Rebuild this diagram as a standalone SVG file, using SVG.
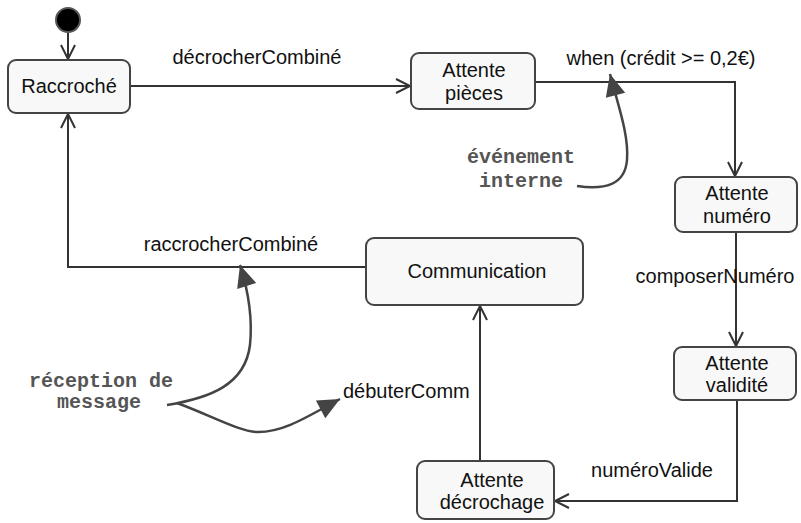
<svg xmlns="http://www.w3.org/2000/svg" width="801" height="523" viewBox="0 0 801 523">
<style>
.box{fill:#f8f8f8;stroke:#444;stroke-width:2}
.lbl{font-family:"Liberation Sans",Arial,sans-serif;font-size:20px;fill:#111;text-anchor:middle}
.note{font-family:"Liberation Mono","Courier New",monospace;font-size:20px;font-weight:bold;fill:#555;text-anchor:middle}
.edge{fill:none;stroke:#333;stroke-width:2}
.curve{fill:none;stroke:#444;stroke-width:2.5}
</style>
<defs>
<marker id="open" markerUnits="userSpaceOnUse" markerWidth="16" markerHeight="16" refX="14" refY="7" orient="auto" overflow="visible">
<path d="M0,0 L14,7 L0,14" fill="none" stroke="#333" stroke-width="2"/>
</marker>
<marker id="filled" markerUnits="userSpaceOnUse" markerWidth="24" markerHeight="22" refX="22" refY="10" orient="auto" overflow="visible">
<polygon points="0,0 22,10 0,20" fill="#444"/>
</marker>
</defs>
<rect width="801" height="523" fill="#ffffff"/>
<g id="connectors">
<path class="edge" d="M68,33 L68,59" marker-end="url(#open)"/>
<path class="edge" d="M130,86 L410,86" marker-end="url(#open)"/>
<path class="edge" d="M535,82 L735,82 L735,176" marker-end="url(#open)"/>
<path class="edge" d="M736,232 L736,346" marker-end="url(#open)"/>
<path class="edge" d="M737,400 L737,501 L555,501" marker-end="url(#open)"/>
<path class="edge" d="M480,461 L480,306" marker-end="url(#open)"/>
<path class="edge" d="M366,267 L68,267 L68,114" marker-end="url(#open)"/>
<text class="lbl" x="257" y="64">décrocherCombiné</text>
<text class="lbl" x="661" y="65">when (crédit &gt;= 0,2€)</text>
<text class="lbl" x="715" y="283">composerNuméro</text>
<text class="lbl" x="652" y="477">numéroValide</text>
<text class="lbl" x="231" y="251">raccrocherCombiné</text>
<text class="lbl" x="343" y="398" style="text-anchor:start">débuterComm</text>
</g>
<g id="note-evenement">
<path class="curve" d="M577,186 C605,190 625,185 627,160 C629,135 618,105 610,74" marker-end="url(#filled)"/>
<text class="note" x="521" y="163">événement</text>
<text class="note" x="521" y="187">interne</text>
</g>
<g id="note-reception">
<path class="curve" d="M167,405 C210,398 245,385 250,345 C253,315 248,290 240,265" marker-end="url(#filled)"/>
<path class="curve" d="M177,403 C210,415 240,432 258,432 C285,432 310,415 340,399" marker-end="url(#filled)"/>
<text class="note" x="101" y="387">réception de</text>
<text class="note" x="99" y="408">message</text>
</g>
<g id="initial">
<circle cx="68" cy="20" r="12" fill="#000" stroke="#555" stroke-width="2"/>
</g>
<g id="raccroche">
<rect class="box" x="8" y="60" width="122" height="53" rx="8"/>
<text class="lbl" x="69" y="93">Raccroché</text>
</g>
<g id="attente-pieces">
<rect class="box" x="411" y="53" width="124" height="56" rx="8"/>
<text class="lbl" x="474" y="77">Attente</text>
<text class="lbl" x="474" y="100">pièces</text>
</g>
<g id="attente-numero">
<rect class="box" x="675" y="177" width="122" height="55" rx="8"/>
<text class="lbl" x="737" y="200">Attente</text>
<text class="lbl" x="737" y="223">numéro</text>
</g>
<g id="attente-validite">
<rect class="box" x="674" y="347" width="122" height="53" rx="8"/>
<text class="lbl" x="737" y="370">Attente</text>
<text class="lbl" x="737" y="392">validité</text>
</g>
<g id="communication">
<rect class="box" x="366" y="238" width="217" height="67" rx="8"/>
<text class="lbl" x="477" y="278">Communication</text>
</g>
<g id="attente-decrochage">
<rect class="box" x="417" y="461" width="137" height="58" rx="8"/>
<text class="lbl" x="492" y="487">Attente</text>
<text class="lbl" x="492" y="509">décrochage</text>
</g>
</svg>
